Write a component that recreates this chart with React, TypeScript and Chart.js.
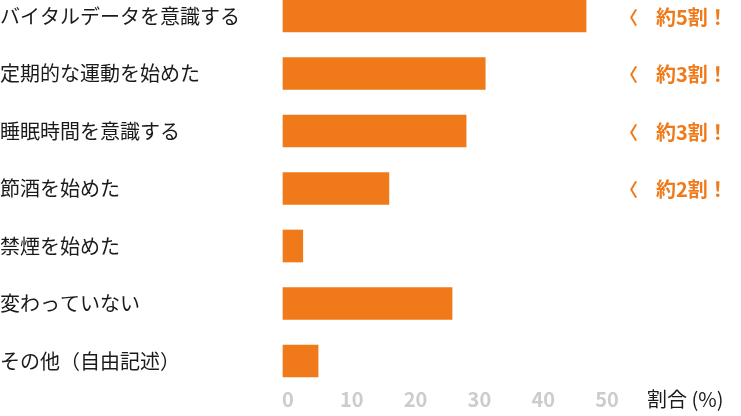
import React, { useEffect, useRef } from "react";
import { Chart, registerables } from "chart.js";

Chart.register(...registerables);

const categories = [
  "バイタルデータを意識する",
  "定期的な運動を始めた",
  "睡眠時間を意識する",
  "節酒を始めた",
  "禁煙を始めた",
  "変わっていない",
  "その他（自由記述）",
];
const values = [47.5, 31.7, 28.7, 16.6, 3.1, 26.5, 5.5];
const notes = ["約5割！", "約3割！", "約3割！", "約2割！", "", "", ""];
const xTicks = [0, 10, 20, 30, 40, 50];
const unitLabel = "割合 (%)";

const ORANGE = "#F07A19";
const FONT = '"Noto Sans CJK JP", "Noto Sans", sans-serif';

const notePlugin = {
  id: "notePlugin",
  afterDraw(chart: any) {
    const ctx = chart.ctx;
    const ys = chart.scales.y;
    const xs = chart.scales.x;
    const right = chart.chartArea.right;
    ctx.save();
    ctx.textBaseline = "middle";
    ctx.textAlign = "left";
    notes.forEach((n, i) => {
      if (!n) return;
      const py = ys.getPixelForValue(i);
      ctx.fillStyle = ORANGE;
      ctx.font = `bold 18px ${FONT}`;
      ctx.fillText("〈", right + 18, py + 1);
      ctx.font = `bold 20px ${FONT}`;
      ctx.fillText(n, right + 54, py + 1);
    });
    ctx.fillStyle = "#1a1a1a";
    ctx.font = `20px ${FONT}`;
    ctx.fillText(unitLabel, right + 45, xs.top + 38);
    ctx.restore();
  },
};

export default function App() {
  const ref = useRef<HTMLCanvasElement>(null);
  useEffect(() => {
    if (!ref.current) return;
    const chart = new Chart(ref.current, {
      type: "bar",
      data: {
        labels: categories,
        datasets: [
          {
            data: values,
            backgroundColor: ORANGE,
            borderWidth: 0,
            barThickness: 32,
            clip: false as any,
          },
        ],
      },
      options: {
        indexAxis: "y",
        responsive: false,
        animation: false,
        layout: { padding: { top: 16, right: 139, bottom: 0, left: 0 } },
        plugins: { legend: { display: false }, tooltip: { enabled: false } },
        scales: {
          x: {
            min: 0,
            max: 50,
            afterBuildTicks: (scale: any) => {
              scale.ticks = xTicks.map((v) => ({ value: v }));
            },
            afterFit: (scale: any) => {
              scale.height = 55;
            },
            grid: { display: false, drawTicks: false },
            border: { display: false },
            ticks: {
              color: "#cccccc",
              font: { family: FONT, size: 20, weight: "bold" },
              padding: 26,
              labelOffset: 5,
              maxRotation: 0,
            },
          },
          y: {
            offset: false,
            afterFit: (scale: any) => {
              scale.width = 283;
            },
            grid: { display: false, drawTicks: false },
            border: { display: false },
            ticks: {
              color: "#1a1a1a",
              crossAlign: "far",
              font: { family: FONT, size: 20 },
              padding: 0,
            },
          },
        },
      },
      plugins: [notePlugin],
    });
    return () => chart.destroy();
  }, []);
  return (
    <div style={{ position: "absolute", left: 0, top: 0, width: 741, height: 416 }}>
      <canvas ref={ref} width={741} height={416} style={{ display: "block" }} />
    </div>
  );
}
